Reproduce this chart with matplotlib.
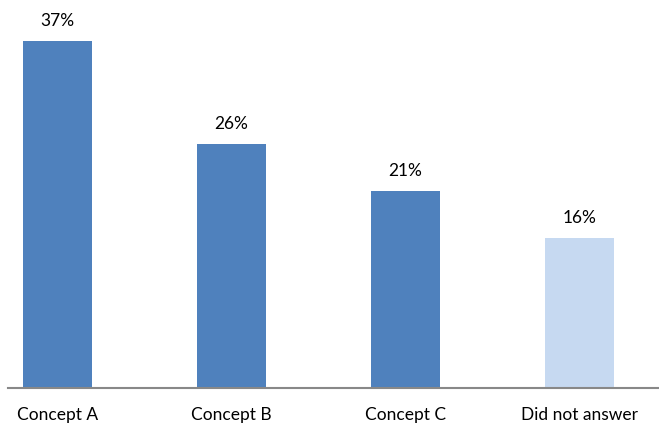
import matplotlib
matplotlib.use("Agg")
import matplotlib.pyplot as plt

categories = ["Concept A", "Concept B", "Concept C", "Did not answer"]
values = [37, 26, 21, 16]
colors = ["#4F81BD", "#4F81BD", "#4F81BD", "#C6D9F1"]

plt.rcParams["font.family"] = ["Lato", "DejaVu Sans"]

W, H = 659, 436
fig = plt.figure(figsize=(W / 100, H / 100), dpi=100)
ax = fig.add_axes([8 / W, 48 / H, 1 - 8 / W, (388 - 13) / H])

x = range(len(categories))
bars = ax.bar(x, values, width=0.397, color=colors)
for b, v in zip(bars, values):
    ax.annotate(f"{v}%", (b.get_x() + b.get_width() / 2, v),
                xytext=(0, 9), textcoords="offset points",
                ha="center", va="bottom", fontsize=12.5, color="#000000")

ax.set_xlim(-0.2845, 3.457)
ax.set_ylim(0, 40)
ax.set_xticks(list(x))
ax.set_xticklabels(categories, fontsize=12.5)
ax.tick_params(axis="x", length=0, pad=14)
ax.set_yticks([])
for side in ["top", "right", "left"]:
    ax.spines[side].set_visible(False)
ax.spines["bottom"].set_color("#888888")
ax.spines["bottom"].set_linewidth(1.5)

fig.savefig("out.png", dpi=100)
